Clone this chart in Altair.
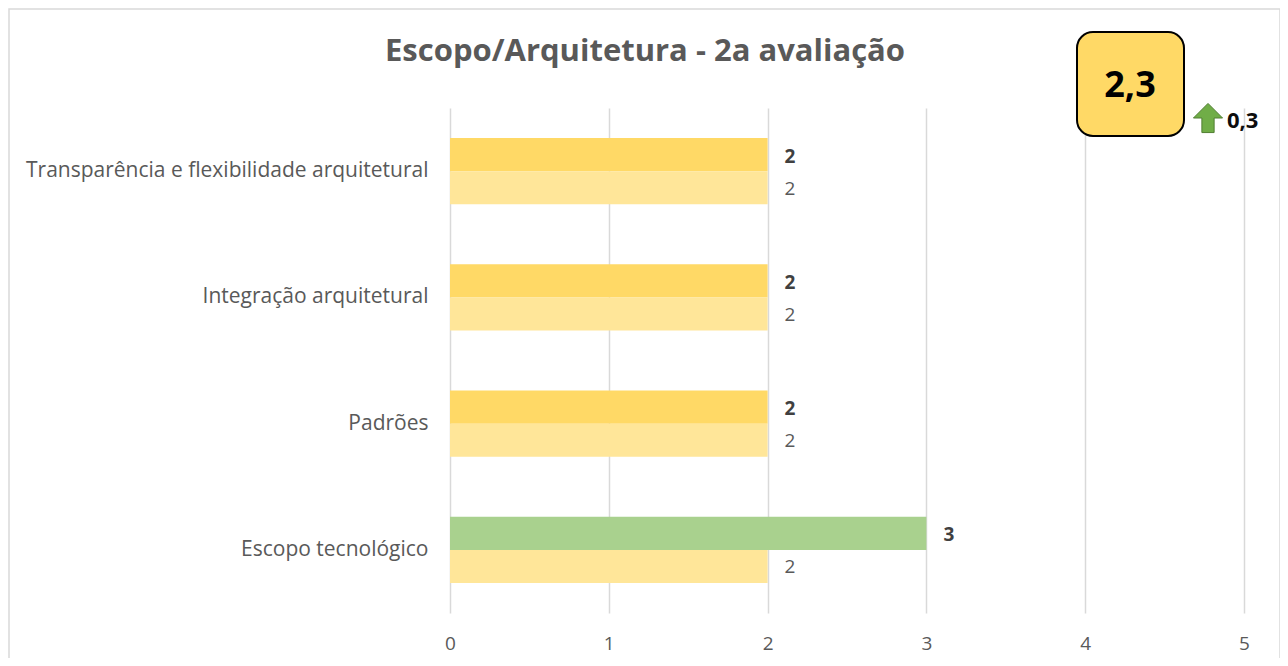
import altair as alt
import pandas as pd

categories = [
    "Transparência e flexibilidade arquitetural",
    "Integração arquitetural",
    "Padrões",
    "Escopo tecnológico",
]
current_values = [2, 2, 2, 3]
previous_values = [2, 2, 2, 2]
series_names = ["2a avaliação", "1a avaliação"]
title_text = "Escopo/Arquitetura - 2a avaliação"
score_text = ["2,3"]
delta_text = ["0,3"]
x_ticks = [0, 1, 2, 3, 4, 5]

FONT = "Open Sans"

rows = []
for c, cur, prev in zip(categories, current_values, previous_values):
    rows.append({"cat": c, "serie": series_names[0], "val": cur,
                 "status": "up" if cur > prev else "cur"})
    rows.append({"cat": c, "serie": series_names[1], "val": prev, "status": "prev"})
df = pd.DataFrame(rows)

W, H = 794, 505

y_enc = alt.Y("cat:N", sort=categories, title=None,
              scale=alt.Scale(paddingInner=0.477, paddingOuter=0.2385),
              axis=alt.Axis(labelFont=FONT, labelFontSize=21, labelColor="#595959",
                            labelPadding=22, ticks=False, domain=False, grid=False,
                            labelLimit=500))
yoff = alt.YOffset("serie:N", sort=series_names, scale=alt.Scale(paddingInner=0, paddingOuter=0))
x_enc = alt.X("val:Q", title=None,
              scale=alt.Scale(domain=[0, 5], nice=False),
              axis=alt.Axis(values=x_ticks, format="d", labelFont=FONT, labelFontSize=19,
                            labelColor="#595959", labelPadding=21, ticks=False,
                            labelFlush=False,
                            domain=False, grid=True, gridColor="#D9D9D9", gridWidth=1.5))

bars = alt.Chart(df).mark_bar().encode(
    y=y_enc, yOffset=yoff, x=x_enc,
    color=alt.Color("status:N", legend=None,
                    scale=alt.Scale(domain=["cur", "prev", "up"],
                                    range=["#FFD966", "#FFE699", "#A9D18E"])),
)

lab_cur = alt.Chart(df[df.serie == series_names[0]]).mark_text(
    align="left", baseline="middle", dx=17, dy=2, font=FONT, fontSize=19,
    fontWeight="bold", color="#404040"
).encode(y=alt.Y("cat:N", sort=categories), yOffset=alt.YOffset("serie:N", sort=series_names),
         x="val:Q", text="val:Q")

lab_prev = alt.Chart(df[df.serie == series_names[1]]).mark_text(
    align="left", baseline="middle", dx=17, dy=1, font=FONT, fontSize=19,
    color="#595959"
).encode(y=alt.Y("cat:N", sort=categories), yOffset=alt.YOffset("serie:N", sort=series_names),
         x="val:Q", text="val:Q")

one = pd.DataFrame({"t": [title_text]})
border = alt.Chart(one).mark_rect(fill=None, stroke="#D9D9D9", strokeWidth=1.5).encode(
    x=alt.value(-441), x2=alt.value(830), y=alt.value(-99), y2=alt.value(580))

title = alt.Chart(one).mark_text(font=FONT, fontSize=31, fontWeight="bold",
                                 color="#595959", baseline="middle").encode(
    x=alt.value(195), y=alt.value(-56), text="t:N")

score_df = pd.DataFrame({"t": score_text})
box = alt.Chart(score_df).mark_rect(fill="#FFD966", stroke="#000000", strokeWidth=2,
                                    cornerRadius=16).encode(
    x=alt.value(627), x2=alt.value(734), y=alt.value(-76), y2=alt.value(28))
score = alt.Chart(score_df).mark_text(font=FONT, fontSize=36, fontWeight="bold",
                                      color="#000000", baseline="middle").encode(
    x=alt.value(680), y=alt.value(-22), text="t:N")

delta_df = pd.DataFrame({"t": delta_text})
arrow_path = "M0,-1 L1,0 L0.42,0 L0.42,1 L-0.42,1 L-0.42,0 L-1,0 Z"
arrow = alt.Chart(delta_df).mark_point(shape=arrow_path, filled=True, fill="#70AD47",
                                       stroke="#507E32", strokeWidth=1, size=850,
                                       opacity=1).encode(
    x=alt.value(758), y=alt.value(10))
delta = alt.Chart(delta_df).mark_text(font=FONT, fontSize=22, fontWeight="bold",
                                      color="#0D0D0D", align="left",
                                      baseline="middle").encode(
    x=alt.value(777), y=alt.value(13), text="t:N")

chart = alt.layer(border, bars, lab_cur, lab_prev, title, box, score, arrow, delta).properties(
    width=W, height=H,
    background="white",
    autosize=alt.AutoSizeParams(type="none"),
    padding={"left": 442, "top": 100, "right": 36, "bottom": 45},
).configure_view(stroke=None)

chart.save("out.html", embed_options={"renderer": "svg", "actions": False})
